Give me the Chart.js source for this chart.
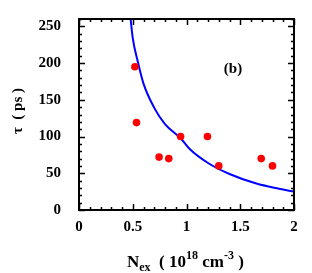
<!DOCTYPE html>
<html><head><meta charset="utf-8">
<script src="https://cdn.jsdelivr.net/npm/chart.js@4"></script>
<style>html,body{margin:0;padding:0;background:#fff}#wrap{width:312px;height:273px}</style>
</head><body><div id="wrap"><canvas id="c" width="312" height="273"></canvas></div>
<script>
// axis ticks
const xTicks=[0,0.5,1,1.5,2];
const yTicks=[0,50,100,150,200,250];
// measured lifetimes (red dots)
const measX=[0.52,0.535,0.745,0.835,0.945,1.195,1.30,1.695,1.80];
const measY=[195,119,72,70,100,100,60,70,60];
// fitted curve (blue line)
const fitX=[0.48,0.50,0.55,0.60,0.70,0.80,0.95,1.03,1.20,1.40,1.65,1.86,2.0];
const fitY=[260,234,200,172,139,117,97,83,64,49,36,29,25];

const SERIF='"Liberation Serif","DejaVu Serif",serif';
const xMinor=0.1, yMinor=10;

const frame={id:'frame',afterDatasetsDraw(chart){
  const {ctx,chartArea:a,scales:{x,y}}=chart;
  ctx.save();ctx.strokeStyle='#000';ctx.lineWidth=1.5;
  ctx.beginPath();
  for(let v=x.min;v<=x.max+1e-9;v+=xMinor){
    const px=Math.round(x.getPixelForValue(v))+0.5;
    const major=xTicks.some(t=>Math.abs(t-v)<1e-6);const L=major?6:3;
    ctx.moveTo(px,a.bottom);ctx.lineTo(px,a.bottom-L);
    ctx.moveTo(px,a.top);ctx.lineTo(px,a.top+L);
  }
  for(let v=y.min;v<=y.max+1e-9;v+=yMinor){
    const py=Math.round(y.getPixelForValue(v))+0.5;
    const major=yTicks.some(t=>Math.abs(t-v)<1e-6);const L=major?6:3;
    ctx.moveTo(a.left,py);ctx.lineTo(a.left+L,py);
    ctx.moveTo(a.right,py);ctx.lineTo(a.right-L,py);
  }
  ctx.stroke();
  ctx.lineWidth=2;ctx.strokeRect(a.left,a.top,a.right-a.left,a.bottom-a.top);
  ctx.restore();
},afterDraw(chart){
  const {ctx}=chart;
  ctx.save();ctx.fillStyle='#000';ctx.textBaseline='alphabetic';
  // panel label
  ctx.font='bold 15px '+SERIF;ctx.textAlign='center';
  ctx.fillText('(b)',233,73);
  // y title
  ctx.save();ctx.translate(22,111);ctx.rotate(-Math.PI/2);
  ctx.font='bold 15px '+SERIF;ctx.textAlign='center';
  ctx.fillText('τ  ( ps )',0,0);ctx.restore();
  // x title with sub/superscripts
  ctx.textAlign='left';
  const parts=[['N',17,0],['ex',12,4],['  ( 10',17,0],['18',12,-8],[' cm',17,0],['-3',12,-8],[' )',17,0]];
  let px=127;const base=267;
  for(const [t,s,dy] of parts){ctx.font='bold '+s+'px '+SERIF;ctx.fillText(t,px,base+dy);px+=ctx.measureText(t).width;}
  ctx.restore();
}};

new Chart(document.getElementById('c'),{
  type:'scatter',
  data:{datasets:[
    {type:'line',data:fitX.map((v,i)=>({x:v,y:fitY[i]})),borderColor:'#0000ff',borderWidth:2,pointRadius:0,cubicInterpolationMode:'monotone',fill:false,order:2},
    {data:measX.map((v,i)=>({x:v,y:measY[i]})),backgroundColor:'#ff0000',borderColor:'#ff0000',pointRadius:3.8,borderWidth:0,order:1}
  ]},
  options:{responsive:false,animation:false,devicePixelRatio:1,
    layout:{padding:{left:0,top:15,right:18,bottom:0}},
    plugins:{legend:{display:false},tooltip:{enabled:false}},
    scales:{
      x:{type:'linear',min:0,max:2,
        afterBuildTicks:s=>{s.ticks=xTicks.map(v=>({value:v}));},
        afterFit:s=>{s.height=63;},
        grid:{display:false},border:{display:false},
        ticks:{padding:0,color:'#000',font:{family:SERIF,size:15,weight:'bold'},callback:v=>String(v),maxRotation:0}},
      y:{type:'linear',min:0,max:260,
        afterBuildTicks:s=>{s.ticks=yTicks.map(v=>({value:v}));},
        afterFit:s=>{s.width=79;},
        grid:{display:false},border:{display:false},
        ticks:{padding:10,color:'#000',font:{family:SERIF,size:15,weight:'bold'},callback:v=>String(v)}}
    }
  },
  plugins:[frame]
});
</script></body></html>
